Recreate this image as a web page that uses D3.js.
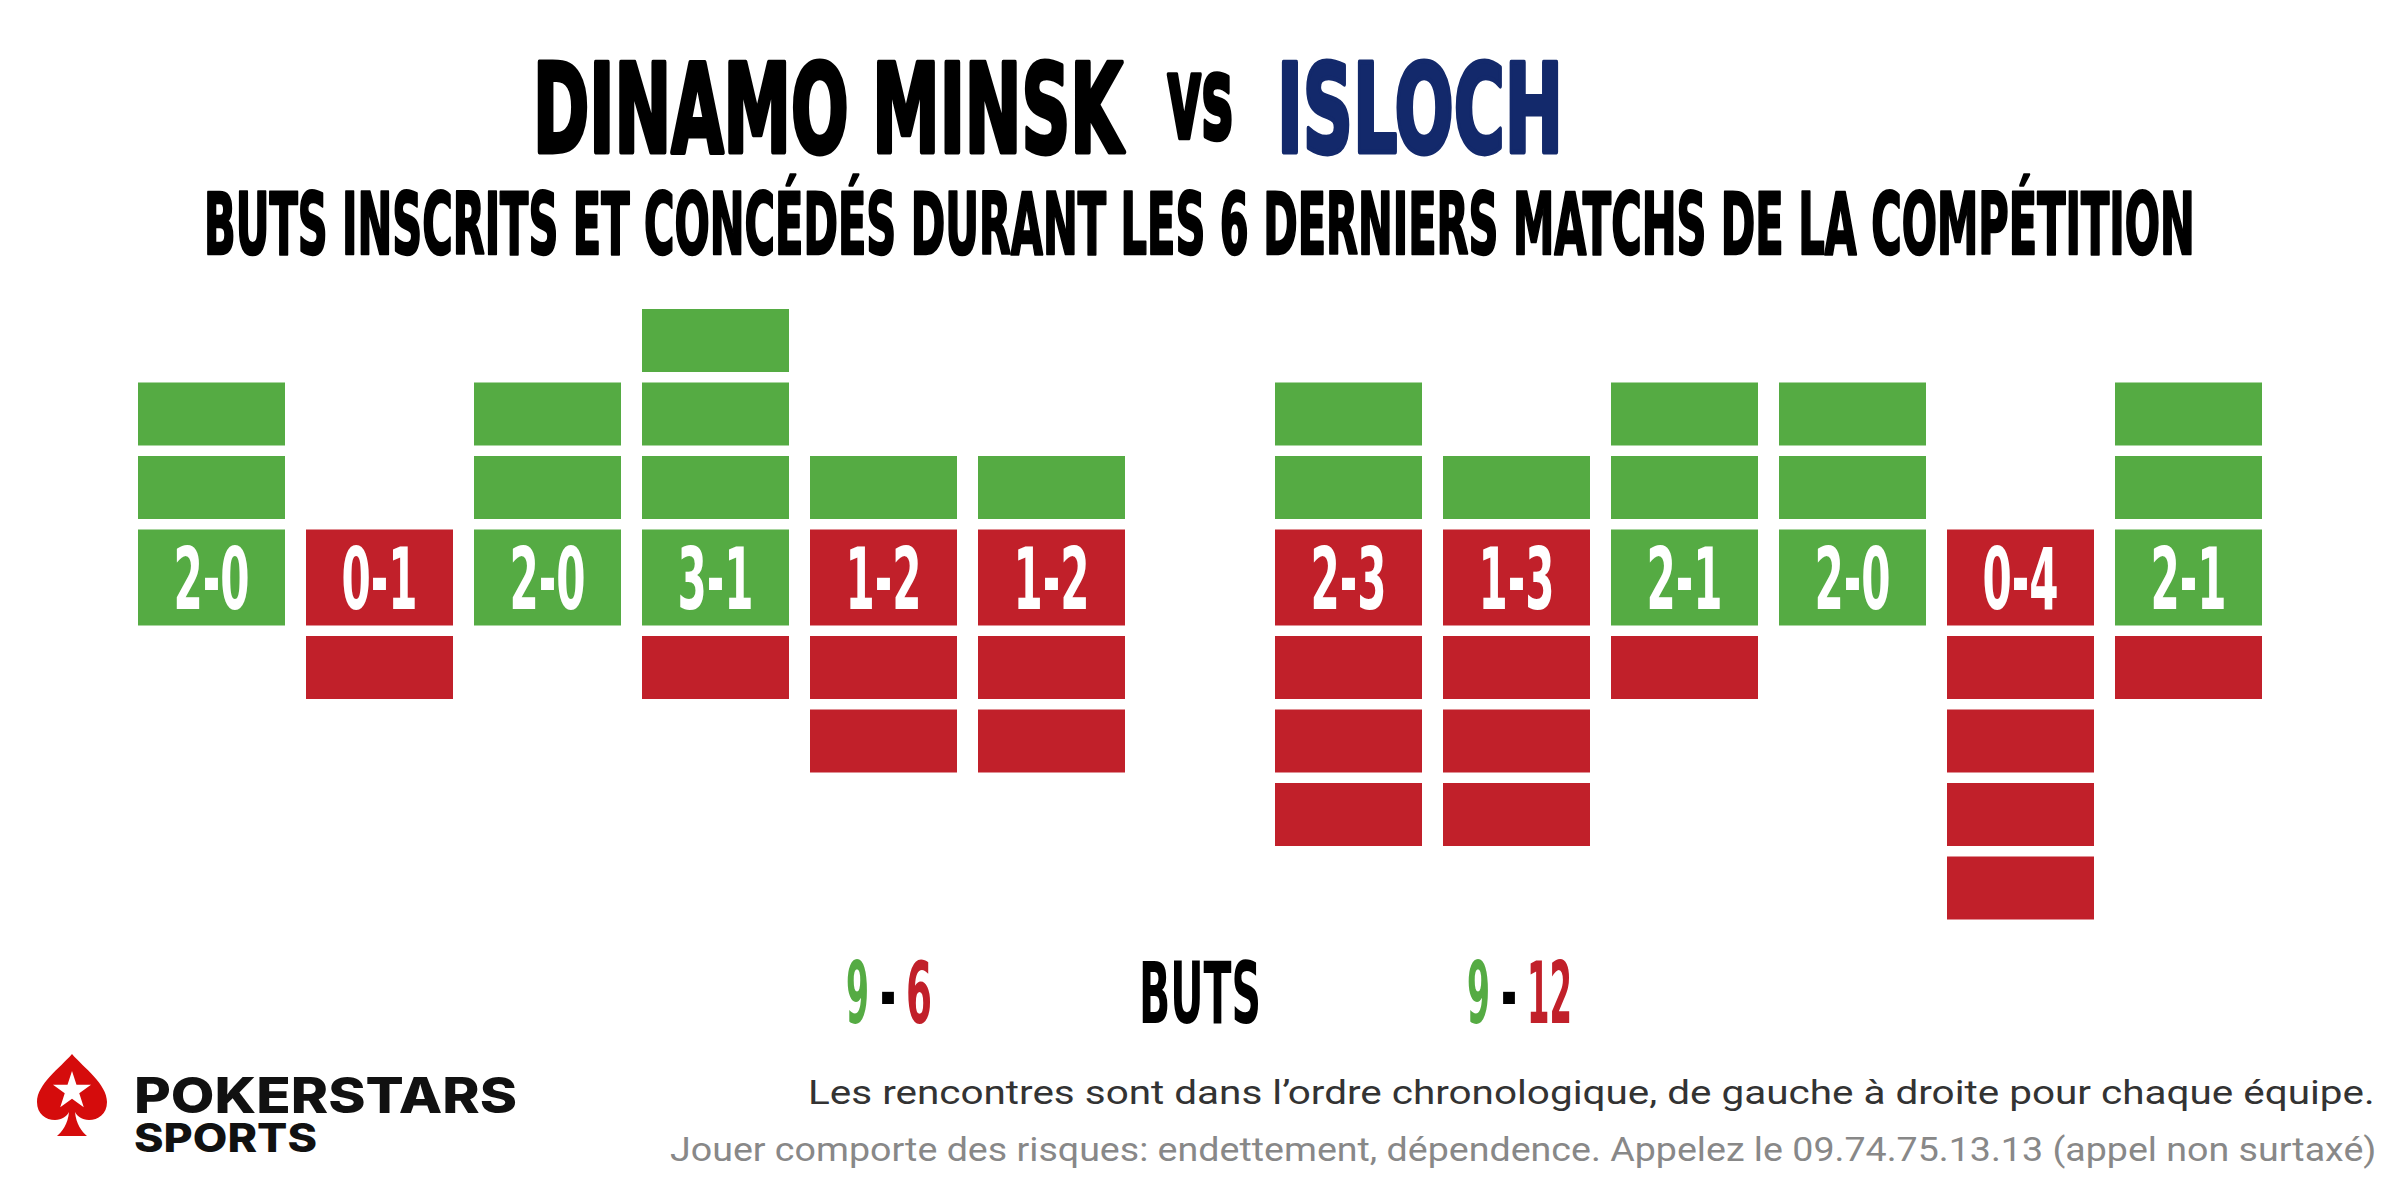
<!DOCTYPE html>
<html>
<head>
<meta charset="utf-8">
<script src="https://cdn.jsdelivr.net/npm/d3@7"></script>
<style>
  html, body { margin: 0; padding: 0; background: #fff; }
  svg { display: block; }
</style>
</head>
<body>
<div id="chart"></div>
<script>
// match data, oldest match first
const teams = ['DINAMO MINSK', 'ISLOCH'];
const dinamoScored = [2, 0, 2, 3, 1, 1];
const dinamoConceded = [0, 1, 0, 1, 2, 2];
const islochScored = [2, 1, 2, 2, 0, 2];
const islochConceded = [3, 3, 1, 0, 4, 1];

const subtitle = 'BUTS INSCRITS ET CONCÉDÉS DURANT LES 6 DERNIERS MATCHS DE LA COMPÉTITION';
const totalLabel = 'BUTS';
const note = 'Les rencontres sont dans l\u2019ordre chronologique, de gauche à droite pour chaque équipe.';
const disclaimer = 'Jouer comporte des risques: endettement, dépendence. Appelez le 09.74.75.13.13 (appel non surtaxé)';

const W = 2400, H = 1200;
const GREEN = '#55ab43', RED = '#c1202a', NAVY = '#13296b';
const condensed = '"Liberation Sans Narrow", "DejaVu Sans Condensed", "DejaVu Sans", sans-serif';
const GAP = 10.5;

const svg = d3.select('#chart').append('svg')
  .attr('width', W)
  .attr('height', H);

// squeeze a text horizontally so that it spans `width` px starting at x
function fitTo(sel, x, y, width) {
  sel.attr('x', 0).attr('y', 0);
  const w = sel.node().getComputedTextLength();
  sel.attr('transform', `translate(${x},${y}) scale(${width / w},1)`);
  return sel;
}

function heavy(sel, color, size, stroke) {
  return sel
    .attr('font-family', condensed).attr('font-weight', 700).attr('font-size', size)
    .attr('fill', color)
    .attr('stroke', stroke ? color : null)
    .attr('stroke-width', stroke || null)
    .attr('stroke-linejoin', 'round')
    .attr('vector-effect', 'non-scaling-stroke');
}

// title
fitTo(heavy(svg.append('text'), '#000', 123, 4).text(teams[0]), 533, 152, 590);
fitTo(heavy(svg.append('text'), '#000', 116, 3.5).text('vs'), 1167, 138, 66);
fitTo(heavy(svg.append('text'), NAVY, 123, 4).text(teams[1]), 1277, 152, 286);
fitTo(heavy(svg.append('text'), '#000', 86, 2).text(subtitle), 204, 254, 1991);

// how much the score font needs squeezing: "2-0" is 76px wide in the original
const probe = heavy(svg.append('text'), '#fff', 86).text('2-0');
const squeeze = 76 / probe.node().getComputedTextLength();
probe.remove();

const groups = [
  { scored: dinamoScored, conceded: dinamoConceded, range: [138, 1125] },
  { scored: islochScored, conceded: islochConceded, range: [1275, 2262] }
];

const yUp = d3.scaleLinear().domain([0, 3]).range([519, 519 - 3 * 73.5]);
const yDown = d3.scaleLinear().domain([0, 4]).range([636, 636 + 4 * 73.5]);

groups.forEach(grp => {
  const x = d3.scaleBand()
    .domain(d3.range(grp.scored.length))
    .range(grp.range)
    .paddingInner(0.125)
    .paddingOuter(0);

  const cells = [];
  grp.scored.forEach((s, i) => {
    for (let k = 1; k <= s; k++) cells.push({ i, y: yUp(k) + GAP, h: yUp(k - 1) - yUp(k) - GAP, fill: GREEN });
    for (let k = 1; k <= grp.conceded[i]; k++) cells.push({ i, y: yDown(k - 1), h: yDown(k) - yDown(k - 1) - GAP, fill: RED });
  });

  const g = svg.append('g');

  g.selectAll('.goal')
    .data(cells)
    .enter()
    .append('rect')
    .attr('class', 'goal')
    .attr('x', d => x(d.i))
    .attr('y', d => d.y)
    .attr('width', x.bandwidth())
    .attr('height', d => d.h)
    .attr('fill', d => d.fill);

  const results = grp.scored.map((s, i) => ({ i, s, c: grp.conceded[i] }));

  g.selectAll('.result')
    .data(results)
    .enter()
    .append('rect')
    .attr('class', 'result')
    .attr('x', d => x(d.i))
    .attr('y', yUp(0) + GAP)
    .attr('width', x.bandwidth())
    .attr('height', yDown(0) - yUp(0) - 2 * GAP)
    .attr('fill', d => d.s > d.c ? GREEN : RED);

  g.selectAll('.score')
    .data(results)
    .enter()
    .append('text')
    .attr('class', 'score')
    .call(heavy, '#fff', 86)
    .text(d => `${d.s}-${d.c}`)
    .each(function(d) {
      const len = this.getComputedTextLength() * squeeze;
      fitTo(d3.select(this), x(d.i) + x.bandwidth() / 2 - len / 2, 609, len);
    });
});

// totals, each piece placed on its own
function total(parts) {
  parts.forEach(p => {
    fitTo(heavy(svg.append('text'), p.color, 86).text(p.text), p.x, 1023, p.w);
  });
}
total([
  { text: d3.sum(dinamoScored), color: GREEN, x: 846, w: 23 },
  { text: '-', color: '#000', x: 880, w: 16 },
  { text: d3.sum(dinamoConceded), color: RED, x: 906, w: 26 }
]);
total([
  { text: d3.sum(islochScored), color: GREEN, x: 1467, w: 23 },
  { text: '-', color: '#000', x: 1501, w: 16 },
  { text: d3.sum(islochConceded), color: RED, x: 1527, w: 45 }
]);
fitTo(heavy(svg.append('text'), '#000', 86).text(totalLabel), 1139, 1023, 122);

// footer notes
fitTo(svg.append('text')
  .attr('font-family', 'Roboto, sans-serif').attr('font-size', 34)
  .attr('fill', '#333')
  .text(note), 2375 - 1567, 1104, 1567);

fitTo(svg.append('text')
  .attr('font-family', 'Roboto, sans-serif').attr('font-size', 33)
  .attr('fill', '#888')
  .text(disclaimer), 2377 - 1707, 1161, 1707);

// logo
const logo = svg.append('g').attr('transform', 'translate(72,1054)');
logo.append('path')
  .attr('d', 'M0,0 C-12,14 -35,30 -35,48 C-35,60 -26,66 -17,66 C-10,66 -5,62 -3,58 C-4,70 -10,78 -15,82 L15,82 C10,78 4,70 3,58 C5,62 10,66 17,66 C26,66 35,60 35,48 C35,30 12,14 0,0 Z')
  .attr('fill', '#d50c0c');
logo.append('path')
  .attr('transform', 'translate(0,37)')
  .attr('d', d3.symbol().type(d3.symbolStar).size(400 / 0.8908)())
  .attr('fill', '#fff');

// brand name as one text, two lines
const brand = svg.append('text')
  .attr('font-family', 'Inter, "Open Sans", sans-serif').attr('font-weight', 800)
  .attr('fill', '#111');
brand.append('tspan')
  .attr('x', 134).attr('y', 1113).attr('font-size', 49)
  .attr('textLength', 383).attr('lengthAdjust', 'spacingAndGlyphs')
  .text('POKERSTARS');
brand.append('tspan')
  .attr('x', 134).attr('y', 1152).attr('font-size', 39)
  .attr('textLength', 183).attr('lengthAdjust', 'spacingAndGlyphs')
  .text('SPORTS');
</script>
</body>
</html>
